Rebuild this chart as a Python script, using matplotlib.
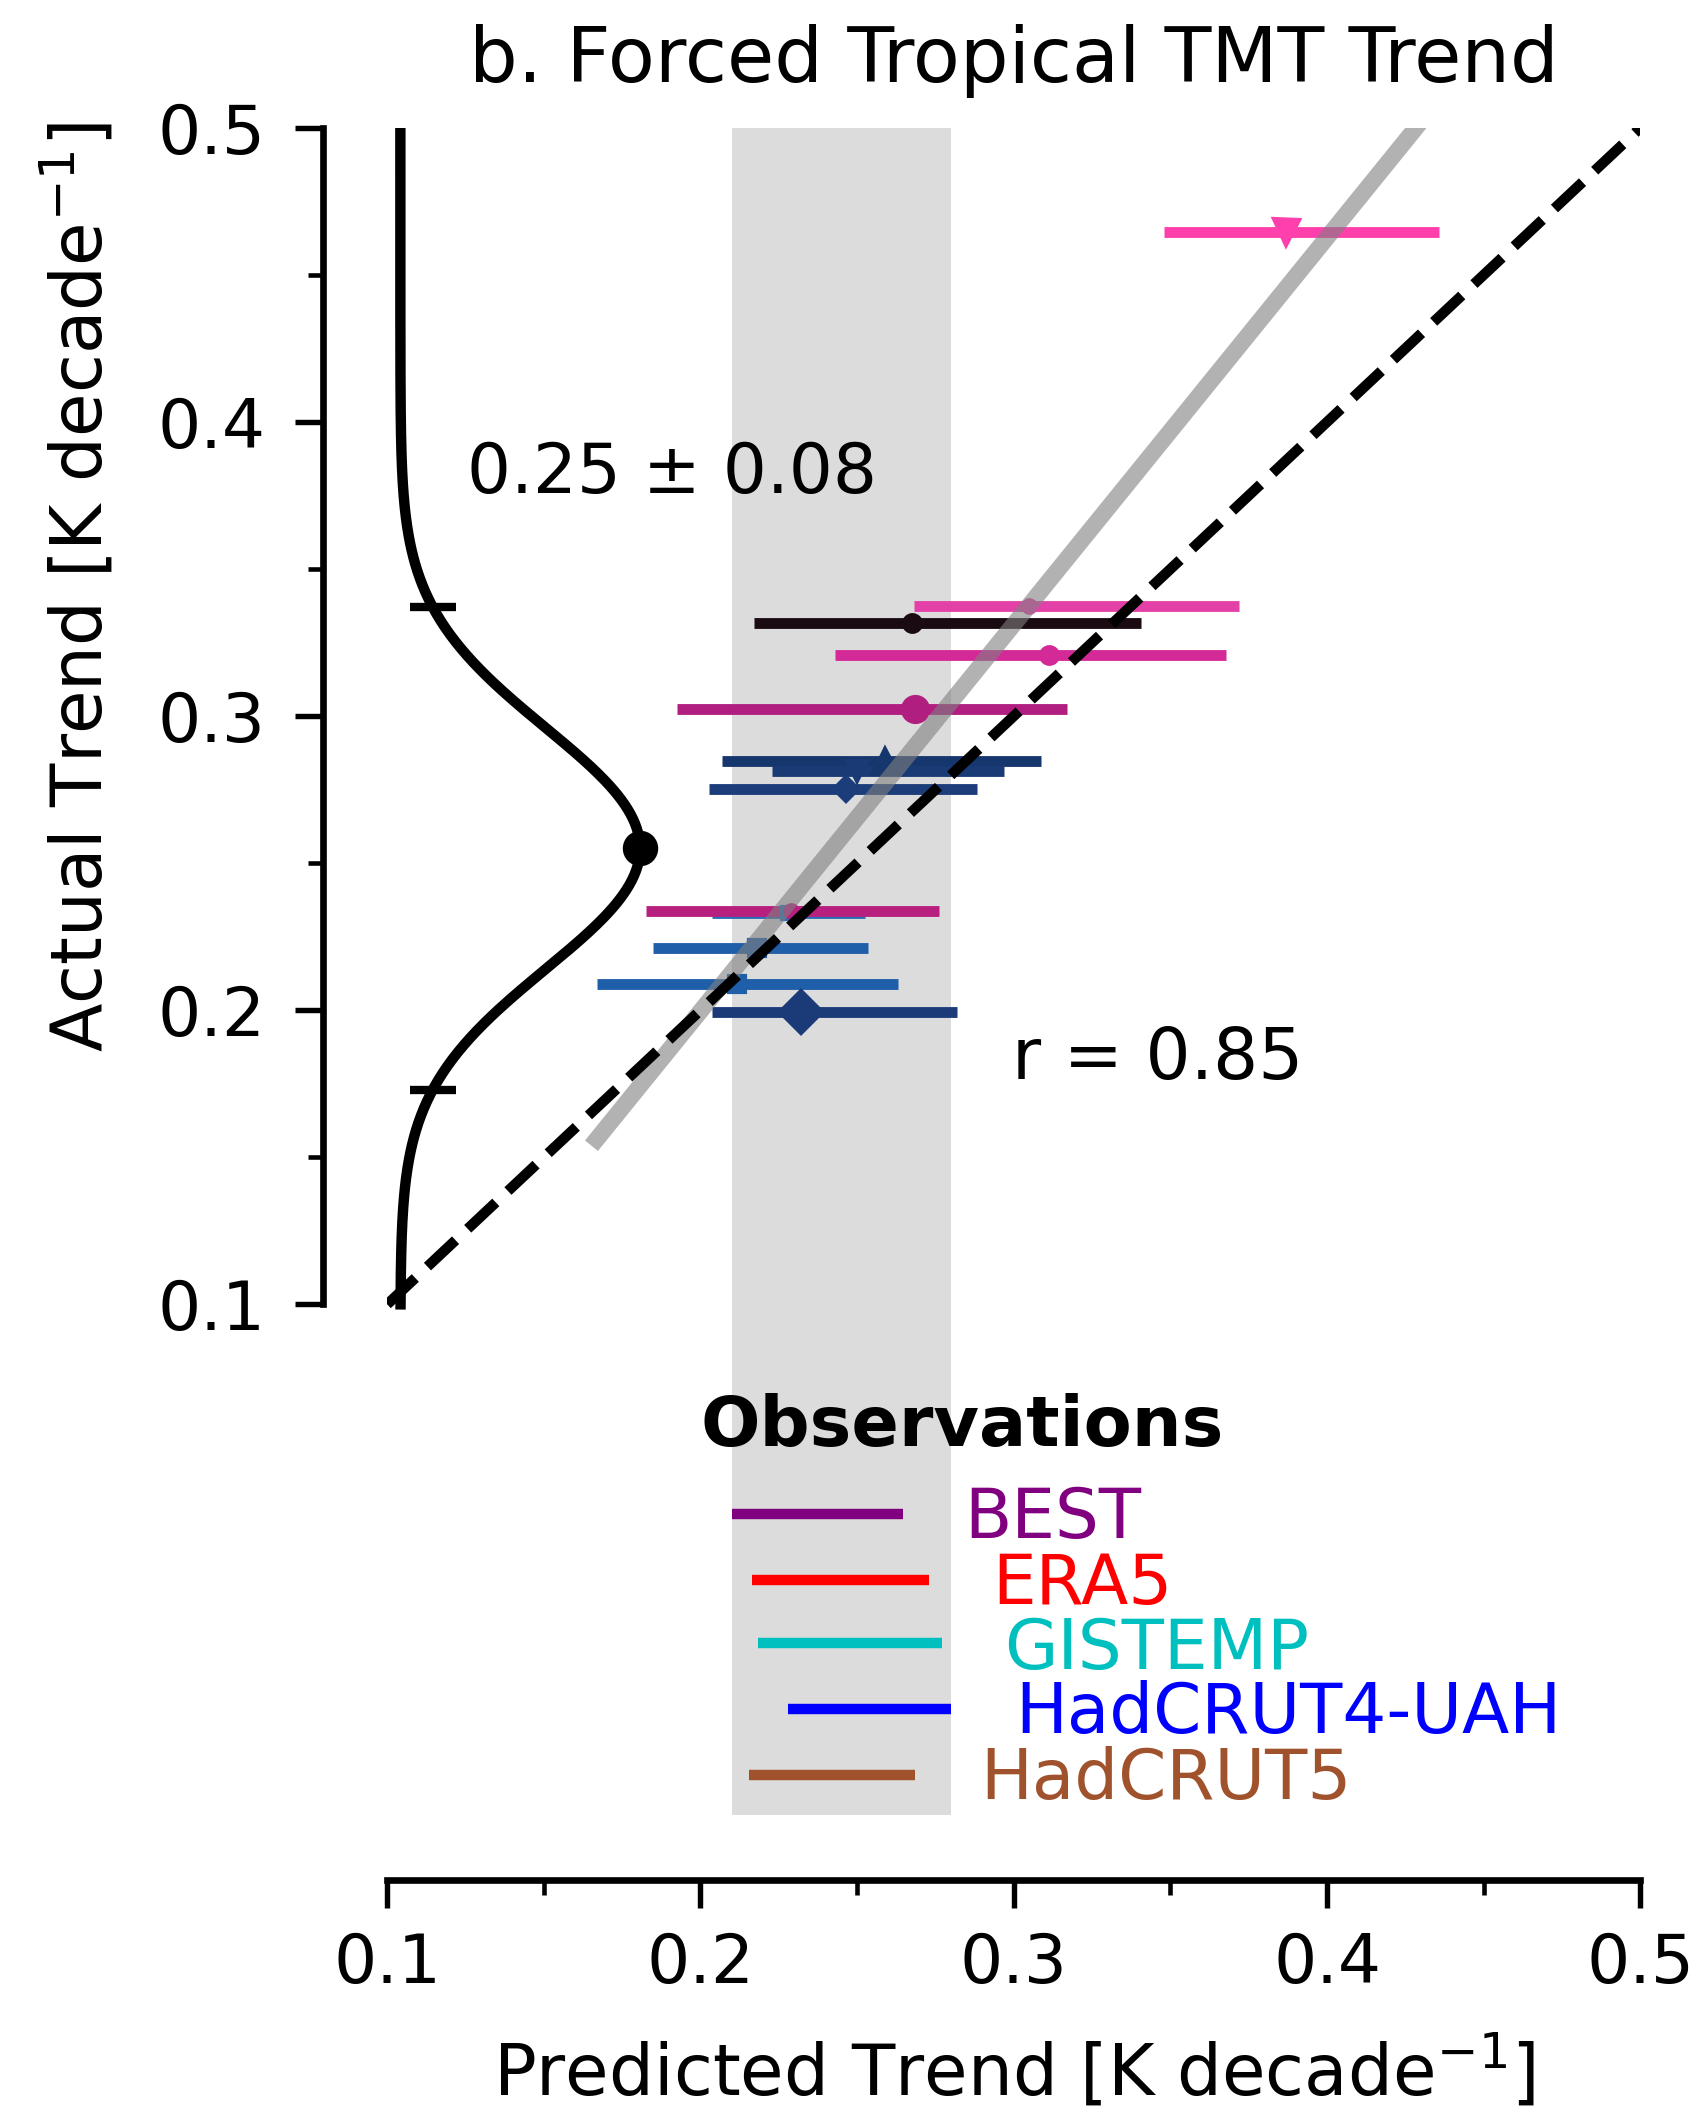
import numpy as np
import matplotlib
matplotlib.use("Agg")
import matplotlib.pyplot as plt
from matplotlib.ticker import FixedLocator

# --- model trends (K decade^-1): predicted (with range) vs actual ---
actual    = [0.4647, 0.3374, 0.3317, 0.3207, 0.3024, 0.2847, 0.2814, 0.2751,
             0.2330, 0.2338, 0.2210, 0.2089, 0.1995]
predicted = [0.3868, 0.3050, 0.2674, 0.3113, 0.2684, 0.2588, 0.2501, 0.2465,
             0.2280, 0.2290, 0.2180, 0.2116, 0.2320]
pred_lo   = [0.3480, 0.2681, 0.2170, 0.2429, 0.1925, 0.2069, 0.2228, 0.2026,
             0.2036, 0.1826, 0.1849, 0.1671, 0.2036]
pred_hi   = [0.4358, 0.3719, 0.3406, 0.3678, 0.3170, 0.3087, 0.2969, 0.2883,
             0.2524, 0.2762, 0.2536, 0.2631, 0.2818]
model_colors  = ["#ff3fac", "#e441a8", "#1a0a12", "#d42a98", "#b01e80",
                 "#16366e", "#1a3a75", "#1b3d7a", "#2a6db5", "#b8207f",
                 "#1f5ea8", "#1f5ea8", "#1a3a78"]
model_markers = ["v", "o", "o", "o", "o", "^", "v", "D", "s", "o", "s", "s", "D"]
marker_sizes  = [6, 3, 4, 4, 6, 6, 5, 4, 3, 3, 4, 4, 7]

# observational constraint (predicted trend range)
band_lo, band_hi = 0.21, 0.28

# distribution of the constrained actual trend
pdf_mean, pdf_sd = 0.255, 0.041
pdf_base, pdf_peak = 0.1042, 0.1807
spread_label = "0.25 \u00b1 0.08"

# regression of actual on predicted
reg_slope, reg_intercept = 1.315, -0.0633
reg_x = [0.1652, 0.45]
r_value = 0.85

one_to_one = [0.1, 0.5]

obs_names  = ["BEST", "ERA5", "GISTEMP", "HadCRUT4-UAH", "HadCRUT5"]
obs_colors = ["purple", "red", "c", "blue", "sienna"]
# legend layout (x0, x1, y of line; x, y of text) in data units
obs_line_x = [(0.2101, 0.2645), (0.2163, 0.2729), (0.2185, 0.2770),
              (0.2278, 0.2801), (0.2154, 0.2686)]
obs_line_y = [0.0286, 0.0063, -0.0152, -0.0377, -0.0600]
obs_text_x = [0.2842, 0.2931, 0.2970, 0.3005, 0.2894]
obs_text_y = [0.0273, 0.0046, -0.0172, -0.0390, -0.0614]

fig = plt.figure(figsize=(1705 / 300, 2109 / 300), dpi=300)
ax = fig.add_axes([0.2271, 0.1394, 0.7350, 0.8000])

ax.axvspan(band_lo, band_hi, color="#dcdcdc", lw=0, zorder=0)

for i in range(len(actual)):
    xerr = [[predicted[i] - pred_lo[i]], [pred_hi[i] - predicted[i]]]
    ax.errorbar(predicted[i], actual[i], xerr=xerr, fmt=model_markers[i],
                color=model_colors[i], ms=marker_sizes[i], elinewidth=2.6,
                capsize=0, zorder=2)

# regression line and 1:1 line
rx = np.array(reg_x)
ax.plot(rx, reg_slope * rx + reg_intercept, color="gray", alpha=0.6,
        lw=4.0, solid_capstyle="butt", zorder=3)
ax.plot(one_to_one, one_to_one, color="black", ls="--", lw=2.5, zorder=4)

# sideways pdf of constrained trend
yy = np.linspace(0.1, 0.5, 500)
xx = pdf_base + (pdf_peak - pdf_base) * np.exp(-0.5 * ((yy - pdf_mean) / pdf_sd) ** 2)
ax.plot(xx, yy, color="black", lw=2.5, zorder=5)
ax.plot(pdf_peak, pdf_mean, "o", color="black", ms=7.5, zorder=6)
for yb in [pdf_mean - 2 * pdf_sd, pdf_mean + 2 * pdf_sd]:
    xb = pdf_base + (pdf_peak - pdf_base) * np.exp(-0.5 * ((yb - pdf_mean) / pdf_sd) ** 2)
    ax.plot(xb, yb, marker="_", color="black", ms=11, mew=2.0, zorder=6)

ax.text(0.1255, 0.3826, spread_label, fontsize=16.6, va="center", ha="left")
ax.text(0.2995, 0.1832, f"r = {r_value:.2f}", fontsize=17, va="center", ha="left")

# hand-made legend
ax.text(0.2000, 0.0584, "Observations", fontsize=16.8, fontweight="bold",
        va="center", ha="left")
for name, col, lx, ly, tx, ty in zip(obs_names, obs_colors, obs_line_x,
                                     obs_line_y, obs_text_x, obs_text_y):
    ax.plot(lx, [ly, ly], color=col, lw=2.5, solid_capstyle="butt", zorder=5)
    ax.text(tx, ty, name, color=col, fontsize=16.6, va="center", ha="left")

ax.set_xlim(0.1, 0.5)
ax.set_ylim(-0.0736, 0.5)

for side in ["top", "right"]:
    ax.spines[side].set_visible(False)
for side in ["left", "bottom"]:
    ax.spines[side].set_position(("outward", 15.5))
    ax.spines[side].set_linewidth(1.6)
ax.spines["left"].set_bounds(0.1, 0.5)
ax.spines["bottom"].set_bounds(0.1, 0.5)

major = [0.1, 0.2, 0.3, 0.4, 0.5]
minor = [0.15, 0.25, 0.35, 0.45]
ax.xaxis.set_major_locator(FixedLocator(major))
ax.yaxis.set_major_locator(FixedLocator(major))
ax.xaxis.set_minor_locator(FixedLocator(minor))
ax.yaxis.set_minor_locator(FixedLocator(minor))
ax.set_xticklabels([f"{v:.1f}" for v in major])
ax.set_yticklabels([f"{v:.1f}" for v in major])
ax.tick_params(which="major", length=6.8, width=1.3, labelsize=16.3, pad=7)
ax.tick_params(axis="x", which="major", pad=5.5)
ax.tick_params(which="minor", length=3.6, width=1.1)

ax.set_xlabel(r"Predicted Trend [K decade$^{-1}$]", fontsize=17)
ax.set_ylabel(r"Actual Trend [K decade$^{-1}$]", fontsize=17)
ax.xaxis.set_label_coords(0.5, -0.1290)
ax.yaxis.set_label_coords(-0.2150, 0.7278)
ax.set_title("b. Forced Tropical TMT Trend", fontsize=18.4, pad=11)

fig.savefig("out.png", dpi=300)
